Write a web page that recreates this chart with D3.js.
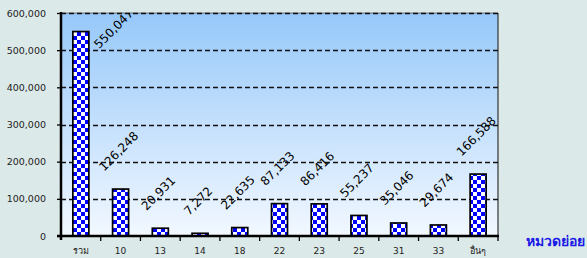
<!DOCTYPE html>
<html><head><meta charset="utf-8">
<script src="https://cdn.jsdelivr.net/npm/d3@7"></script>
<style>
html,body{margin:0;padding:0;background:#DCE9E9;}
svg{display:block;}
</style></head>
<body>
<svg id="c" width="587" height="258"></svg>
<script>
const categories = ["รวม","10","13","14","18","22","23","25","31","33","อื่นๆ"];
const values = [550047,126248,20931,7272,22635,87133,86416,55237,35046,29674,166588];
const yTicks = [0,100000,200000,300000,400000,500000,600000];
const axisTitle = "หมวดย่อย";

const W=587,H=258;
const m={left:61,right:89,top:13,bottom:22};
const x0=m.left, x1=W-m.right, yT=m.top, yB=H-m.bottom;
const svg=d3.select("#c");

const x=d3.scaleBand().domain(categories).range([x0,x1]).padding(0);
const y=d3.scaleLinear().domain([0,600000]).range([yB,yT]);

const defs=svg.append("defs");
const lg=defs.append("linearGradient").attr("id","bg").attr("x1",0).attr("y1",0).attr("x2",0).attr("y2",1);
lg.append("stop").attr("offset","0%").attr("stop-color","#96C8FA");
lg.append("stop").attr("offset","100%").attr("stop-color","#F2F8FF");
const pat=defs.append("pattern").attr("id","chk").attr("patternUnits","userSpaceOnUse")
  .attr("width",8).attr("height",8).attr("x",1).attr("y",0);
pat.append("rect").attr("width",8).attr("height",8).attr("fill","#fff");
pat.append("rect").attr("x",4).attr("y",0).attr("width",4).attr("height",4).attr("fill","#0000FF");
pat.append("rect").attr("x",0).attr("y",4).attr("width",4).attr("height",4).attr("fill","#0000FF");
defs.append("clipPath").attr("id","clip").append("rect")
  .attr("x",x0).attr("y",yT).attr("width",x1-x0).attr("height",yB-yT);

// plot area
svg.append("rect").attr("x",x0).attr("y",yT).attr("width",x1-x0).attr("height",yB-yT).attr("fill","url(#bg)");
svg.append("line").attr("x1",x1).attr("x2",x1).attr("y1",yT).attr("y2",yB).attr("stroke","#333").attr("stroke-width",1.2);
svg.append("line").attr("x1",x0).attr("x2",x1).attr("y1",yT).attr("y2",yT).attr("stroke","#555").attr("stroke-width",0.8);

// gridlines
svg.append("g").selectAll("line").data(yTicks.filter(d=>d>0)).join("line")
  .attr("x1",x0).attr("x2",x1).attr("y1",d=>Math.round(y(d))+0.5).attr("y2",d=>Math.round(y(d))+0.5)
  .attr("stroke","#111").attr("stroke-width",1.3).attr("stroke-dasharray","5,3");

// bars
const bw=16;
svg.append("g").selectAll("rect").data(values).join("rect")
  .attr("x",(d,i)=>x(categories[i])+x.bandwidth()/2-bw/2)
  .attr("y",d=>y(d))
  .attr("width",bw)
  .attr("height",d=>yB-y(d))
  .attr("fill","url(#chk)").attr("stroke","#000").attr("stroke-width",1.7);

// value labels
const lab=svg.append("g").attr("clip-path","url(#clip)");
values.forEach((v,i)=>{
  let cx=x(categories[i])+x.bandwidth()/2-2;
  const t=lab.append("text").text(d3.format(",")(v))
    .attr("font-family","DejaVu Sans, Verdana, sans-serif").attr("font-size",12)
    .attr("fill","#000").attr("text-anchor","middle");
  const L=t.node().getComputedTextLength();
  const half=(L+12)*0.7071/2;
  let cy=y(v)-16-half;
  if(cy-half<yT){ cx=cx+bw/2+5+half; cy=yT+half-6; }
  t.attr("transform",`translate(${cx},${cy}) rotate(-45)`).attr("dy","0.35em");
});

// y axis
const ya=svg.append("g").attr("transform",`translate(${x0},0)`)
  .call(d3.axisLeft(y).tickValues(yTicks).tickFormat(d3.format(",")).tickSize(4).tickPadding(11));
ya.select(".domain").remove();
ya.selectAll("line").attr("stroke","#000").attr("stroke-width",1.3);
ya.selectAll("text").attr("font-family","DejaVu Sans, Verdana, sans-serif").attr("font-size",9.5).attr("fill","#222");

// x axis labels
const xa=svg.append("g").attr("transform",`translate(0,${yB})`)
  .call(d3.axisBottom(x).tickSize(0).tickPadding(12));
xa.select(".domain").remove();
xa.selectAll("text").attr("font-family","DejaVu Sans, Verdana, sans-serif").attr("font-size",9).attr("fill","#222");

// boundary ticks
const bounds=categories.map(c=>x(c)).concat([x1]);
svg.append("g").selectAll("line").data(bounds.slice(1)).join("line")
  .attr("x1",d=>d).attr("x2",d=>d).attr("y1",yB).attr("y2",yB+5)
  .attr("stroke","#000").attr("stroke-width",1.3);

// axis lines
svg.append("line").attr("x1",x0).attr("x2",x0).attr("y1",yT-1).attr("y2",yB+4).attr("stroke","#000").attr("stroke-width",2.5);
svg.append("line").attr("x1",x0-4).attr("x2",x1+1).attr("y1",yB).attr("y2",yB).attr("stroke","#000").attr("stroke-width",2.5);

// axis title
svg.append("text").text(axisTitle).attr("x",585).attr("y",246).attr("text-anchor","end")
  .attr("font-family","Noto Sans, Tahoma, sans-serif").attr("font-weight","bold").attr("font-size",14)
  .attr("fill","#1A1AE6");
</script>
</body></html>
